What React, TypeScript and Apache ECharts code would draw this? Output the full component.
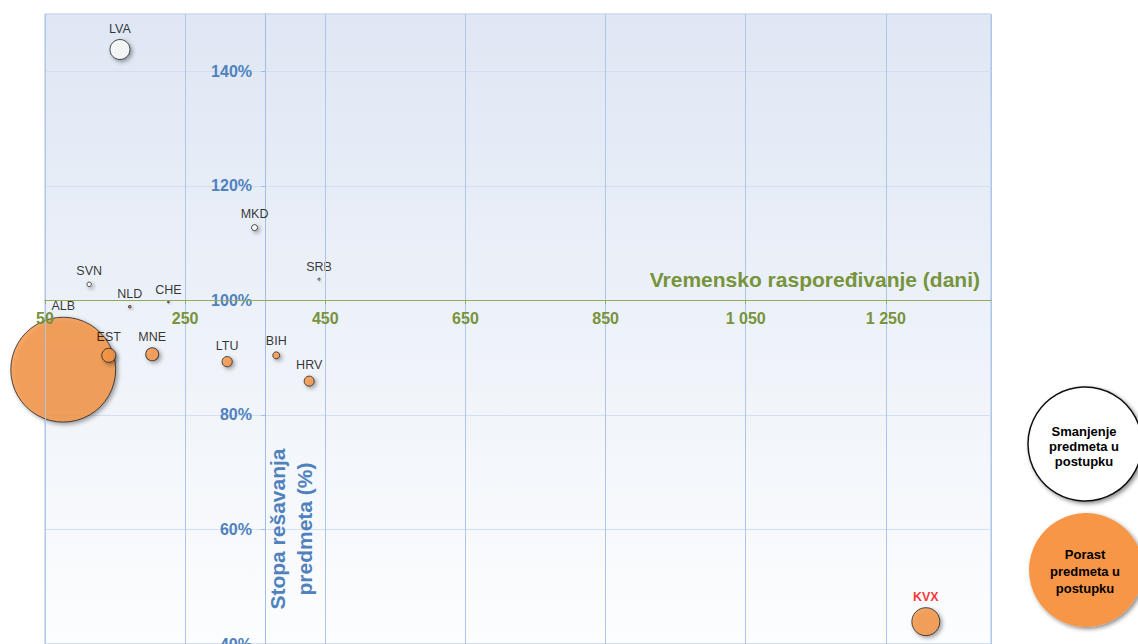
import React, { useEffect, useRef } from "react";
import * as echarts from "echarts";

// ---- data ----
const countries = ["LVA", "MKD", "SVN", "SRB", "NLD", "CHE", "ALB", "EST", "MNE", "LTU", "BIH", "HRV", "KVX"];
// disposition time (days)
const dispositionTime = [157, 349, 113, 441, 171, 226, 76, 141, 203, 310, 380, 427, 1307];
// clearance rate (%)
const clearanceRate = [143.8, 112.7, 102.8, 103.7, 98.9, 99.7, 87.9, 90.4, 90.6, 89.3, 90.4, 85.9, 43.9];
// bubble magnitude (change of pending cases, relative units)
const bubbleValue = [100, 9, 5, 1, 1.5, 0.8, 2750, 49, 42, 26, 12, 25, 196];
// trend of pending cases
const trend = ["dec", "dec", "dec", "dec", "inc", "inc", "inc", "inc", "inc", "inc", "inc", "inc", "inc"];
const highlighted = ["KVX"];

const xTickStart = 50; // first tick of the disposition-time axis
const xTickStep = 200;
const xMax = 1400;
const yMin = 40;
const yMax = 150;
const yStep = 20;

const legendDec = "Smanjenje\npredmeta u\npostupku";
const legendInc = "Porast\npredmeta u\npostupku";
const xName = "Vremensko raspoređivanje (dani)";
const yName = "Stopa rešavanja\npredmeta (%)";

const FONT = "'Liberation Sans', Arial, sans-serif";
const BLUE = "#4F81BD";
const GREEN = "#77933C";
const ORANGE = "#F79646";

function fmtNum(v: number) {
  const s = String(Math.round(v));
  return s.replace(/\B(?=(\d{3})+(?!\d))/g, " ");
}

export default function App() {
  const ref = useRef<HTMLDivElement>(null);
  useEffect(() => {
    if (!ref.current) return;
    const chart = echarts.init(ref.current, undefined, { renderer: "svg" });

    const mk = (kind: string) =>
      countries
        .map((c, i) => ({ c, i }))
        .filter(({ i }) => trend[i] === kind)
        .map(({ c, i }) => {
          const hl = highlighted.includes(c);
          return {
            name: c,
            value: [dispositionTime[i] - xTickStart, clearanceRate[i], bubbleValue[i]],
            label: hl ? { color: "#FF0000", fontWeight: "bold" } : undefined,
          };
        });

    const shadow = {
      shadowBlur: 4,
      shadowOffsetX: 2,
      shadowOffsetY: 2,
      shadowColor: "rgba(0,0,0,0.45)",
    };

    const seriesBase = {
      type: "scatter",
      clip: false,
      symbolSize: (v: number[]) => 2 * Math.sqrt(v[2]),
      label: {
        show: true,
        position: "top",
        distance: 4,
        formatter: "{b}",
        fontSize: 12.5,
        fontFamily: FONT,
        color: "#000",
      },
      labelLayout: { hideOverlap: false },
      emphasis: { disabled: true },
    };

    chart.setOption({
      animation: false,
      grid: {
        left: 45,
        top: 14,
        right: 147,
        bottom: 0,
        outerBoundsMode: "none",
        containLabel: false,
        show: true,
        borderColor: "#A9C2EA",
        borderWidth: 1,
        backgroundColor: {
          type: "linear",
          x: 0,
          y: 0,
          x2: 0,
          y2: 1,
          colorStops: [
            { offset: 0, color: "#DFE7F4" },
            { offset: 1, color: "#FCFDFE" },
          ],
        },
      },
      xAxis: {
        type: "value",
        min: 0,
        max: xMax - xTickStart,
        interval: xTickStep,
        position: "bottom",
        offset: -344,
        z: 5,
        axisLine: { onZero: false, lineStyle: { color: "#8FAB5B", width: 1.2 } },
        axisTick: { show: true, length: 4, lineStyle: { color: "#8FAB5B" } },
        axisLabel: {
          margin: 10,
          color: GREEN,
          fontWeight: "bold",
          fontSize: 16,
          fontFamily: FONT,
          showMaxLabel: false,
          formatter: (v: number) => fmtNum(v + xTickStart),
        },
        splitLine: { show: true, lineStyle: { color: "#AFC6EA", width: 1 } },
      },
      yAxis: {
        type: "value",
        min: yMin,
        max: yMax,
        interval: yStep,
        position: "left",
        offset: -220,
        axisLine: { show: true, onZero: false, lineStyle: { color: "#A3BDE6", width: 1 } },
        axisTick: { show: true, length: 4, lineStyle: { color: "#A3BDE6" } },
        axisLabel: {
          margin: 13,
          color: BLUE,
          fontWeight: "bold",
          fontSize: 16,
          fontFamily: FONT,
          showMaxLabel: false,
          formatter: (v: number) => `${v}%`,
        },
        splitLine: { show: true, lineStyle: { color: "#D3DEF1", width: 1 } },
      },
      series: [
        {
          ...seriesBase,
          name: "Smanjenje predmeta u postupku",
          itemStyle: { color: "#FFFFFF", borderColor: "#222", borderWidth: 1, ...shadow },
          data: mk("dec"),
        },
        {
          ...seriesBase,
          name: "Porast predmeta u postupku",
          itemStyle: { color: ORANGE, borderColor: "#222", borderWidth: 1, ...shadow },
          data: mk("inc"),
        },
      ],
      graphic: [
        {
          type: "text",
          x: 980,
          y: 279,
          z: 10,
          style: {
            text: xName,
            fill: GREEN,
            font: `bold 21px ${FONT}`,
            align: "right",
            verticalAlign: "middle",
          },
        },
        {
          type: "text",
          x: 291,
          y: 529,
          rotation: Math.PI / 2,
          z: 10,
          style: {
            text: yName,
            fill: BLUE,
            font: `bold 21px ${FONT}`,
            align: "center",
            verticalAlign: "middle",
            lineHeight: 27,
          },
        },
        {
          type: "circle",
          shape: { cx: 1085, cy: 444, r: 57 },
          z: 10,
          style: { fill: "#FFFFFF", stroke: "#111", lineWidth: 1.5, ...shadow },
        },
        {
          type: "text",
          x: 1084,
          y: 446,
          z: 11,
          style: {
            text: legendDec,
            fill: "#000",
            font: `bold 13px ${FONT}`,
            align: "center",
            verticalAlign: "middle",
            lineHeight: 15,
          },
        },
        {
          type: "circle",
          shape: { cx: 1086, cy: 570, r: 57 },
          z: 10,
          style: { fill: ORANGE, stroke: "none", ...shadow },
        },
        {
          type: "text",
          x: 1085,
          y: 571,
          z: 11,
          style: {
            text: legendInc,
            fill: "#000",
            font: `bold 13px ${FONT}`,
            align: "center",
            verticalAlign: "middle",
            lineHeight: 17,
          },
        },
      ],
    });
    return () => chart.dispose();
  }, []);
  return (
    <div
      ref={ref}
      style={{ position: "fixed", left: 0, top: 0, width: 1138, height: 644, background: "#fff" }}
    />
  );
}
